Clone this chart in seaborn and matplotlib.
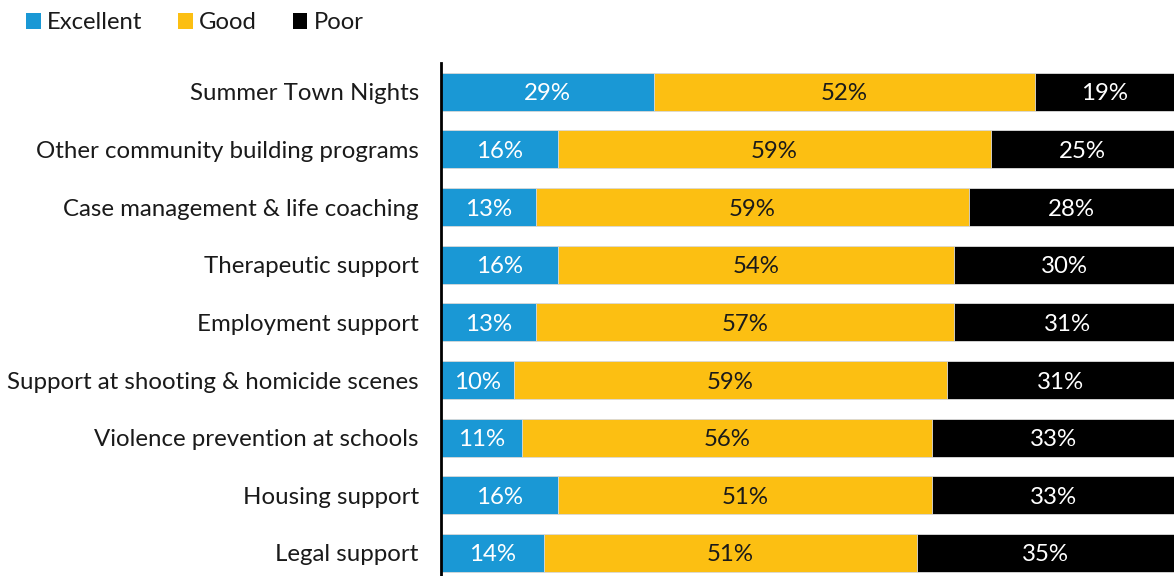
import matplotlib
matplotlib.use("Agg")
import matplotlib.pyplot as plt
import seaborn as sns
import pandas as pd
from matplotlib.patches import Patch

programs = [
    "Summer Town Nights",
    "Other community building programs",
    "Case management & life coaching",
    "Therapeutic support",
    "Employment support",
    "Support at shooting & homicide scenes",
    "Violence prevention at schools",
    "Housing support",
    "Legal support",
]
excellent = [29, 16, 13, 16, 13, 10, 11, 16, 14]
good = [52, 59, 59, 54, 57, 59, 56, 51, 51]
poor = [19, 25, 28, 30, 31, 31, 33, 33, 35]

ratings = ["Excellent", "Good", "Poor"]
colors = {"Excellent": "#1a98d5", "Good": "#fcbf12", "Poor": "#000000"}
text_colors = {"Excellent": "white", "Good": "#1a1a1a", "Poor": "white"}

sns.set_theme(style="white")
plt.rcParams["font.family"] = ["Lato", "DejaVu Sans"]

df = pd.DataFrame({"program": programs, "Excellent": excellent,
                   "Good": good, "Poor": poor})
df["end_exc"] = df["Excellent"]
df["end_good"] = df["Excellent"] + df["Good"]
df["end_poor"] = df["end_good"] + df["Poor"]

fig = plt.figure(figsize=(11.74, 5.76), dpi=100)
ax = fig.add_axes([441 / 1174, 0.0, 1 - 441 / 1174, 1 - 63 / 576])

# stacked bars drawn back to front as cumulative totals
for col, rating in [("end_poor", "Poor"), ("end_good", "Good"), ("end_exc", "Excellent")]:
    sns.barplot(data=df, x=col, y="program", order=programs, color=colors[rating],
                saturation=1, width=0.66, edgecolor="#dddddd", linewidth=0.6,
                orient="h", ax=ax)

for i, row in df.iterrows():
    start = 0
    for rating in ratings:
        v = row[rating]
        ax.text(start + v / 2, i, f"{v}%", ha="center", va="center_baseline",
                color=text_colors[rating], fontsize=17.3)
        start += v

ax.set_xlim(0, 100)
ax.set_ylim(8.4, -0.5)
ax.set_xlabel("")
ax.set_ylabel("")
ax.set_xticks([])
for s in ["top", "right", "bottom"]:
    ax.spines[s].set_visible(False)
ax.spines["left"].set_color("black")
ax.spines["left"].set_linewidth(2)
ax.tick_params(axis="y", length=0, pad=16, labelsize=17.3, labelcolor="#1a1a1a")

handles = [Patch(facecolor=colors[r], edgecolor="none", label=r) for r in ratings]
fig.legend(handles=handles, loc="upper left", bbox_to_anchor=(0.004, 1.016), ncol=3,
           frameon=False, fontsize=17.2, handlelength=0.62, handleheight=0.62,
           handletextpad=0.25, columnspacing=1.5, labelcolor="#1a1a1a")

fig.savefig("out.png", dpi=100)
